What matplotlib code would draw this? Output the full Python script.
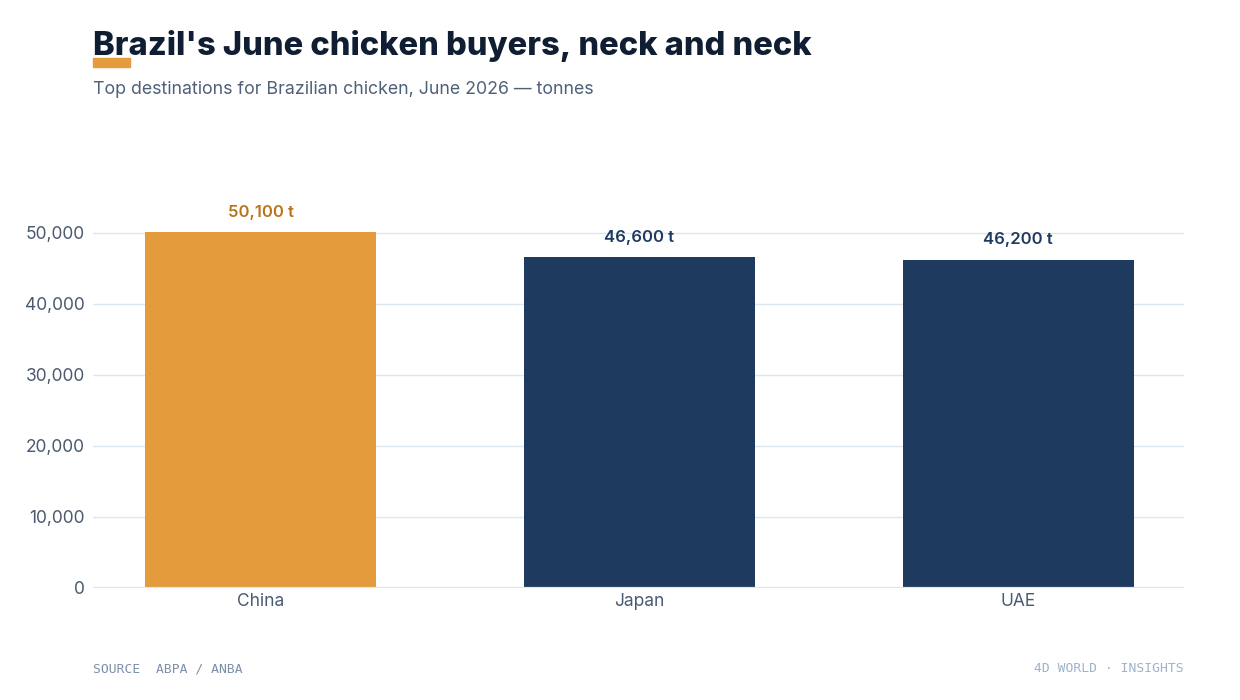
import matplotlib
matplotlib.use("Agg")
import matplotlib.pyplot as plt
from matplotlib.patches import Rectangle

countries = ["China", "Japan", "UAE"]
tonnes = [50100, 46600, 46200]
value_labels = ["50,100 t", "46,600 t", "46,200 t"]
yticks = [0, 10000, 20000, 30000, 40000, 50000]
ytick_labels = ["0", "10,000", "20,000", "30,000", "40,000", "50,000"]

ORANGE = "#e39b3b"
NAVY = "#1e3a5f"
ORANGE_TXT = "#b8741a"
TITLE = "#0f1e33"
TICK = "#4a5a70"
GRID = "#dde5ee"
FOOT = "#7d8fa8"

plt.rcParams['font.family'] = ['Inter', 'DejaVu Sans']

fig = plt.figure(figsize=(12.4, 7.0), dpi=100)
ax = fig.add_axes([93/1240, 1-587.5/700, (1184-93)/1240, (587.5-162)/700])

colors = [ORANGE, NAVY, NAVY]
x = list(range(len(countries)))
ax.bar(x, tonnes, width=0.61, color=colors, zorder=3)
for xi, v, lab, c in zip(x, tonnes, value_labels, colors):
    ax.annotate(lab, (xi, v), xytext=(0, 9), textcoords="offset points",
                ha="center", va="bottom", fontsize=12, fontweight="semibold",
                color=ORANGE_TXT if c == ORANGE else NAVY)

ax.set_xlim(-0.442, 2.438)
ax.set_ylim(0, 60000)
ax.set_yticks(yticks)
ax.set_yticklabels(ytick_labels)
ax.set_xticks(x)
ax.set_xticklabels(countries)
ax.tick_params(axis="both", length=0, labelsize=12.5, colors=TICK)
ax.tick_params(axis="y", pad=6)
ax.tick_params(axis="x", pad=4)
ax.grid(axis="y", color=GRID, linewidth=1, zorder=0)
ax.axhline(0, color=GRID, linewidth=1.6, zorder=4)
for s in ax.spines.values():
    s.set_visible(False)

fig.text(93/1240, 1-55/700, "Brazil's June chicken buyers, neck and neck",
         fontsize=23.5, fontweight="heavy", color=TITLE, ha="left", va="baseline")
fig.patches.append(Rectangle((93/1240, 1-67/700), 37/1240, 9/700,
                             transform=fig.transFigure, color=ORANGE))
fig.text(93/1240, 1-94/700, "Top destinations for Brazilian chicken, June 2026 — tonnes",
         fontsize=12.8, color="#4f6178", ha="left", va="baseline")
fig.text(93/1240, 1-672/700, "SOURCE  ABPA / ANBA", family="DejaVu Sans Mono",
         fontsize=9.4, color=FOOT, ha="left", va="baseline")
fig.text(1184/1240, 1-672/700, "4D WORLD · INSIGHTS", family="DejaVu Sans Mono",
         fontsize=9.4, color="#9fb2ca", ha="right", va="baseline")

fig.savefig("out.png", dpi=100)
